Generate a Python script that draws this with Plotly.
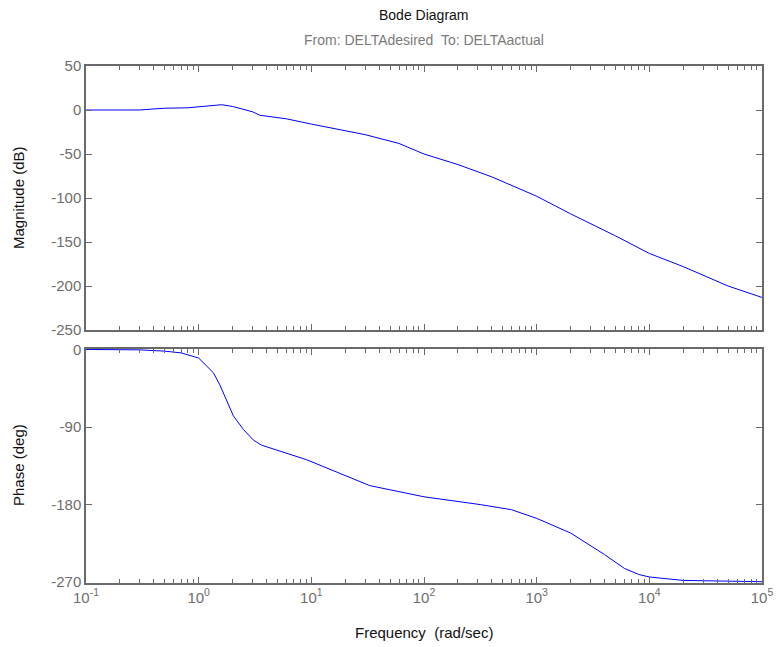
import plotly.graph_objects as go
from plotly.subplots import make_subplots

# ---- data ----
freq_mag = [0.1, 0.2, 0.3, 0.4, 0.5, 0.8, 1.0, 1.3, 1.6, 2.0, 2.5, 3.0, 3.5, 6, 10, 30, 60, 100, 200, 400, 1000, 2000, 5000, 10000, 20000, 50000, 100000]
mag_db = [0, 0, 0, 1.2, 2, 2.5, 3.5, 5.5, 6, 4, 1, -2, -6, -10, -16, -28, -38, -50, -62, -76, -98, -118, -143, -163, -178, -200, -213]

freq_ph = [0.1, 0.3, 0.5, 0.7, 1.0, 1.35, 1.54, 1.77, 2.03, 2.5, 3.05, 3.6, 5.3, 9.1, 33, 100, 315, 600, 1000, 2000, 4000, 6000, 8000, 10000, 20000, 50000, 100000]
phase_deg = [0, -0.5, -2, -4, -10, -27, -41, -60, -77, -93, -105, -111, -118, -128, -158, -171, -180, -186, -196, -213, -238, -254, -261, -264, -268, -268.5, -269.5]

x_tickvals = [0.1, 1, 10, 100, 1000, 10000, 100000]
x_ticktext = ["10<sup>-1</sup>", "10<sup>0</sup>", "10<sup>1</sup>", "10<sup>2</sup>", "10<sup>3</sup>", "10<sup>4</sup>", "10<sup>5</sup>"]
x_minor_ticks = [m * d for d in [0.1, 1, 10, 100, 1000, 10000] for m in range(2, 10)]
mag_ticks = [50, 0, -50, -100, -150, -200, -250]
phase_ticks = [0, -90, -180, -270]

title_text = "Bode Diagram"
subtitle_text = "From: DELTAdesired  To: DELTAactual"

# ---- figure ----
W, H = 777, 647
left, right, top, bottom = 86, 762, 66, 583   # target plot area in page pixels
ml, mt = left, top
mr = W - right
mb = H - bottom
ph = bottom - top
pw = right - left
top_dom = [(bottom - 330) / ph, 1.0]
bot_dom = [0.0, (bottom - 349) / ph]

fig = make_subplots(rows=2, cols=1, shared_xaxes=True)

line = dict(color="#0000ff", width=1)
fig.add_trace(go.Scatter(x=freq_mag, y=mag_db, mode="lines", line=line, showlegend=False), row=1, col=1)
fig.add_trace(go.Scatter(x=freq_ph, y=phase_deg, mode="lines", line=line, showlegend=False), row=2, col=1)

axcol = "#6a6a6a"
tickfont = dict(family="Liberation Sans, Arial, sans-serif", size=15, color="#6e6e6e")
common_x = dict(type="log", range=[-1, 5], showgrid=False, zeroline=False,
                showline=True, linecolor=axcol, linewidth=1.5, mirror="allticks",
                ticks="inside", ticklen=6, tickwidth=1, tickcolor=axcol,
                minor=dict(ticks="inside", ticklen=4, tickwidth=1, tickcolor=axcol, showgrid=False,
                           tickmode="array", tickvals=x_minor_ticks),
                tickmode="array", tickvals=x_tickvals, automargin=False)
fig.update_xaxes(**common_x, ticktext=[""] * 7, row=1, col=1)
fig.update_xaxes(**common_x, ticktext=x_ticktext, tickfont=tickfont, row=2, col=1)

common_y = dict(showgrid=False, zeroline=False, showline=True, linecolor=axcol, linewidth=1.5,
                mirror="allticks", ticks="inside", ticklen=6, tickwidth=1, tickcolor=axcol, tickfont=tickfont,
                tickmode="array", automargin=False)
fig.update_yaxes(**common_y, range=[-250, 50], tickvals=mag_ticks, ticktext=[str(v) for v in mag_ticks], row=1, col=1)
fig.update_yaxes(**common_y, range=[-271, 0.5], tickvals=phase_ticks, ticktext=[str(v) for v in phase_ticks], row=2, col=1)

fig.update_layout(
    width=W, height=H, margin=dict(l=ml, r=mr, t=mt, b=mb, autoexpand=False),
    plot_bgcolor="white", paper_bgcolor="white",
    font=dict(family="Liberation Sans, Arial, sans-serif", size=14, color="#000"),
)
fig.layout.yaxis.domain = top_dom
fig.layout.yaxis2.domain = bot_dom


def py(ypage):
    return (bottom - ypage) / ph


def px(xpage):
    return (xpage - left) / pw


fig.add_annotation(text=title_text, xref="paper", x=0.5, yref="paper", y=py(15), showarrow=False,
                   font=dict(size=14, color="#111"), xanchor="center", yanchor="middle")
fig.add_annotation(text=subtitle_text, xref="paper", x=0.5, yref="paper", y=py(40), showarrow=False,
                   font=dict(size=14, color="#7a7a7a"), xanchor="center", yanchor="middle")
fig.add_annotation(text="Frequency  (rad/sec)", xref="paper", x=0.5, yref="paper", y=py(632),
                   showarrow=False, font=dict(size=15, color="#111"), xanchor="center", yanchor="middle")
fig.add_annotation(text="Magnitude (dB)", xref="paper", x=px(18), yref="paper", y=py(198),
                   showarrow=False, textangle=-90, font=dict(size=15, color="#111"),
                   xanchor="center", yanchor="middle")
fig.add_annotation(text="Phase (deg)", xref="paper", x=px(18), yref="paper", y=py(465),
                   showarrow=False, textangle=-90, font=dict(size=15, color="#111"),
                   xanchor="center", yanchor="middle")

fig.write_html("out.html", config={"displayModeBar": False},
               post_script="document.body.style.margin='0';document.body.style.overflow='hidden';")
